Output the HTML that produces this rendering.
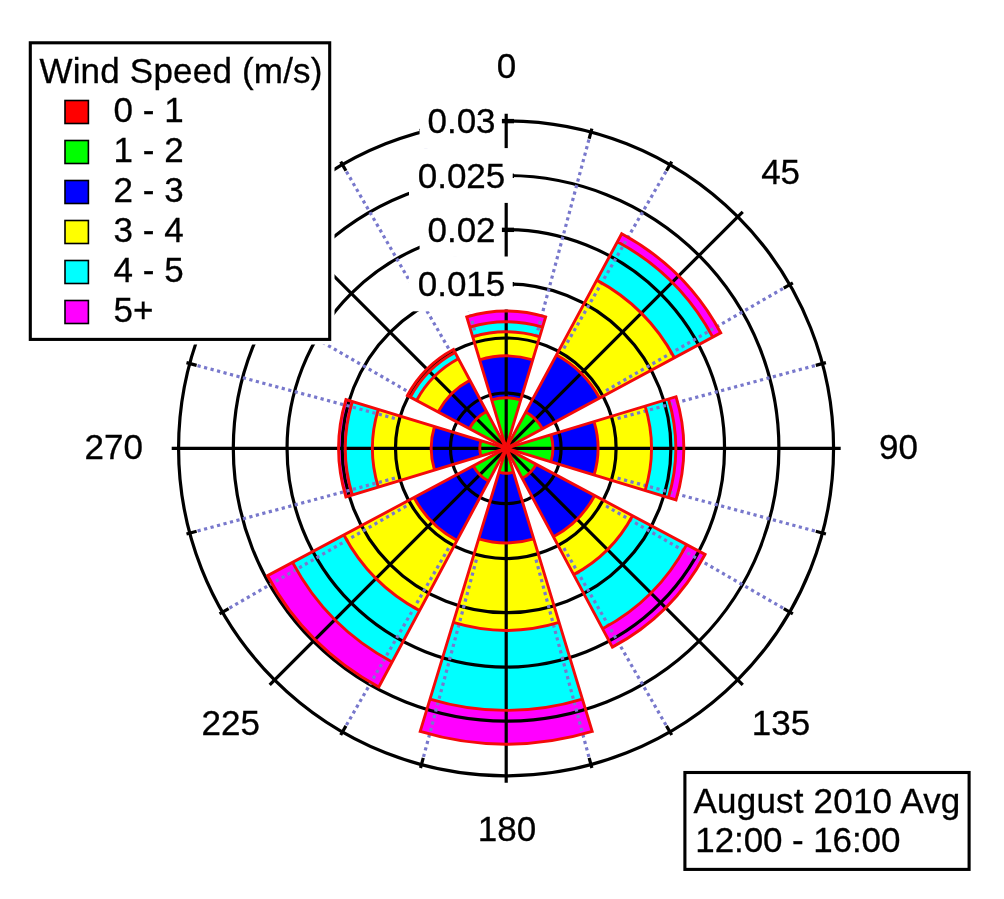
<!DOCTYPE html>
<html><head><meta charset="utf-8"><title>Wind Rose</title>
<style>html,body{margin:0;padding:0;background:#fff}svg{display:block}</style></head>
<body>
<svg width="1004" height="899" viewBox="0 0 1004 899">
<defs><mask id="gm" maskUnits="userSpaceOnUse" x="0" y="0" width="1004" height="899">
<rect width="1004" height="899" fill="#fff"/>
<rect x="419.6" y="93.4" width="82.3" height="54.8" fill="#000"/>
<rect x="409" y="148.1" width="103.7" height="54.8" fill="#000"/>
<rect x="419.6" y="202.15" width="82.3" height="54.8" fill="#000"/>
<rect x="409" y="256.5" width="103.7" height="54.8" fill="#000"/>
<path d="M506.2 448.3L464.26 316.09A138.7 138.7 0 0 1 548.14 316.09Z" fill="#fff"/>
</mask></defs>
<rect width="1004" height="899" fill="#fff"/>
<g stroke="none">
<path d="M506.2 448.3L505.05 444.47A4 4 0 0 1 507.35 444.47Z" fill="#ff0000"/>
<path d="M505.05 444.47L491.69 399.93A50.5 50.5 0 0 1 520.71 399.93L507.35 444.47A4 4 0 0 0 505.05 444.47Z" fill="#00ff00"/>
<path d="M491.69 399.93L479.65 359.8A92.4 92.4 0 0 1 532.75 359.8L520.71 399.93A50.5 50.5 0 0 0 491.69 399.93Z" fill="#0000ff"/>
<path d="M479.65 359.8L472.75 336.81A116.4 116.4 0 0 1 539.65 336.81L532.75 359.8A92.4 92.4 0 0 0 479.65 359.8Z" fill="#ffff00"/>
<path d="M472.75 336.81L469.88 327.23A126.4 126.4 0 0 1 542.52 327.23L539.65 336.81A116.4 116.4 0 0 0 472.75 336.81Z" fill="#00ffff"/>
<path d="M469.88 327.23L466.77 316.89A137.2 137.2 0 0 1 545.63 316.89L542.52 327.23A126.4 126.4 0 0 0 469.88 327.23Z" fill="#ff00ff"/>
<path d="M506.2 448.3L508.1 444.78A4 4 0 0 1 509.72 446.4Z" fill="#ff0000"/>
<path d="M508.1 444.78L525.73 412.02A41.2 41.2 0 0 1 542.48 428.77L509.72 446.4A4 4 0 0 0 508.1 444.78Z" fill="#00ff00"/>
<path d="M525.73 412.02L556.45 354.97A106 106 0 0 1 599.53 398.05L542.48 428.77A41.2 41.2 0 0 0 525.73 412.02Z" fill="#0000ff"/>
<path d="M556.45 354.97L596.75 280.13A191 191 0 0 1 674.37 357.75L599.53 398.05A106 106 0 0 0 556.45 354.97Z" fill="#ffff00"/>
<path d="M596.75 280.13L617.42 241.74A234.6 234.6 0 0 1 712.76 337.08L674.37 357.75A191 191 0 0 0 596.75 280.13Z" fill="#00ffff"/>
<path d="M617.42 241.74L621.69 233.82A243.6 243.6 0 0 1 720.68 332.81L712.76 337.08A234.6 234.6 0 0 0 617.42 241.74Z" fill="#ff00ff"/>
<path d="M506.2 448.3L510.03 447.14A4 4 0 0 1 510.03 449.46Z" fill="#ff0000"/>
<path d="M510.03 447.14L550.88 434.72A46.7 46.7 0 0 1 550.88 461.88L510.03 449.46A4 4 0 0 0 510.03 447.14Z" fill="#00ff00"/>
<path d="M550.88 434.72L594.04 421.61A91.8 91.8 0 0 1 594.04 474.99L550.88 461.88A46.7 46.7 0 0 0 550.88 434.72Z" fill="#0000ff"/>
<path d="M594.04 421.61L645.13 406.09A145.2 145.2 0 0 1 645.13 490.51L594.04 474.99A91.8 91.8 0 0 0 594.04 421.61Z" fill="#ffff00"/>
<path d="M645.13 406.09L668.38 399.03A169.5 169.5 0 0 1 668.38 497.57L645.13 490.51A145.2 145.2 0 0 0 645.13 406.09Z" fill="#00ffff"/>
<path d="M668.38 399.03L676.03 396.7A177.5 177.5 0 0 1 676.03 499.9L668.38 497.57A169.5 169.5 0 0 0 668.38 399.03Z" fill="#ff00ff"/>
<path d="M506.2 448.3L509.73 450.18A4 4 0 0 1 508.08 451.83Z" fill="#ff0000"/>
<path d="M509.73 450.18L536.19 464.31A34 34 0 0 1 522.21 478.29L508.08 451.83A4 4 0 0 0 509.73 450.18Z" fill="#00ff00"/>
<path d="M536.19 464.31L594.68 495.54A100.3 100.3 0 0 1 553.44 536.78L522.21 478.29A34 34 0 0 0 536.19 464.31Z" fill="#0000ff"/>
<path d="M594.68 495.54L632.52 515.75A143.2 143.2 0 0 1 573.65 574.62L553.44 536.78A100.3 100.3 0 0 0 594.68 495.54Z" fill="#ffff00"/>
<path d="M632.52 515.75L686.68 544.67A204.6 204.6 0 0 1 602.57 628.78L573.65 574.62A143.2 143.2 0 0 0 632.52 515.75Z" fill="#00ffff"/>
<path d="M686.68 544.67L705.03 554.47A225.4 225.4 0 0 1 612.37 647.13L602.57 628.78A204.6 204.6 0 0 0 686.68 544.67Z" fill="#ff00ff"/>
<path d="M506.2 448.3L507.36 452.13A4 4 0 0 1 505.04 452.13Z" fill="#ff0000"/>
<path d="M507.36 452.13L513.47 472.22A25 25 0 0 1 498.93 472.22L505.04 452.13A4 4 0 0 0 507.36 452.13Z" fill="#00ff00"/>
<path d="M513.47 472.22L533.7 538.81A94.6 94.6 0 0 1 478.7 538.81L498.93 472.22A25 25 0 0 0 513.47 472.22Z" fill="#0000ff"/>
<path d="M533.7 538.81L559.11 622.44A182 182 0 0 1 453.29 622.44L478.7 538.81A94.6 94.6 0 0 0 533.7 538.81Z" fill="#ffff00"/>
<path d="M559.11 622.44L582.39 699.08A262.1 262.1 0 0 1 430.01 699.08L453.29 622.44A182 182 0 0 0 559.11 622.44Z" fill="#00ffff"/>
<path d="M582.39 699.08L592.22 731.42A295.9 295.9 0 0 1 420.18 731.42L430.01 699.08A262.1 262.1 0 0 0 582.39 699.08Z" fill="#ff00ff"/>
<path d="M506.2 448.3L504.32 451.83A4 4 0 0 1 502.67 450.18Z" fill="#ff0000"/>
<path d="M504.32 451.83L488.63 481.2A37.3 37.3 0 0 1 473.3 465.87L502.67 450.18A4 4 0 0 0 504.32 451.83Z" fill="#00ff00"/>
<path d="M488.63 481.2L456.98 540.48A104.5 104.5 0 0 1 414.02 497.52L473.3 465.87A37.3 37.3 0 0 0 488.63 481.2Z" fill="#0000ff"/>
<path d="M456.98 540.48L419.53 610.61A184 184 0 0 1 343.89 534.97L414.02 497.52A104.5 104.5 0 0 0 456.98 540.48Z" fill="#ffff00"/>
<path d="M419.53 610.61L392.12 661.95A242.2 242.2 0 0 1 292.55 562.38L343.89 534.97A184 184 0 0 0 419.53 610.61Z" fill="#00ffff"/>
<path d="M392.12 661.95L378.79 686.92A270.5 270.5 0 0 1 267.58 575.71L292.55 562.38A242.2 242.2 0 0 0 392.12 661.95Z" fill="#ff00ff"/>
<path d="M506.2 448.3L502.37 449.46A4 4 0 0 1 502.37 447.14Z" fill="#ff0000"/>
<path d="M502.37 449.46L480.94 455.97A26.4 26.4 0 0 1 480.94 440.63L502.37 447.14A4 4 0 0 0 502.37 449.46Z" fill="#00ff00"/>
<path d="M480.94 455.97L434.44 470.1A75 75 0 0 1 434.44 426.5L480.94 440.63A26.4 26.4 0 0 0 480.94 455.97Z" fill="#0000ff"/>
<path d="M434.44 470.1L378.27 487.17A133.7 133.7 0 0 1 378.27 409.43L434.44 426.5A75 75 0 0 0 434.44 470.1Z" fill="#ffff00"/>
<path d="M378.27 487.17L352.34 495.04A160.8 160.8 0 0 1 352.34 401.56L378.27 409.43A133.7 133.7 0 0 0 378.27 487.17Z" fill="#00ffff"/>
<path d="M352.34 495.04L345.93 496.99A167.5 167.5 0 0 1 345.93 399.61L352.34 401.56A160.8 160.8 0 0 0 352.34 495.04Z" fill="#ff00ff"/>
<path d="M506.2 448.3L502.67 446.42A4 4 0 0 1 504.32 444.77Z" fill="#ff0000"/>
<path d="M502.67 446.42L469.33 428.61A41.8 41.8 0 0 1 486.51 411.43L504.32 444.77A4 4 0 0 0 502.67 446.42Z" fill="#00ff00"/>
<path d="M469.33 428.61L438.1 411.94A77.2 77.2 0 0 1 469.84 380.2L486.51 411.43A41.8 41.8 0 0 0 469.33 428.61Z" fill="#0000ff"/>
<path d="M438.1 411.94L416.58 400.45A101.6 101.6 0 0 1 458.35 358.68L469.84 380.2A77.2 77.2 0 0 0 438.1 411.94Z" fill="#ffff00"/>
<path d="M416.58 400.45L410.31 397.1A108.7 108.7 0 0 1 455 352.41L458.35 358.68A101.6 101.6 0 0 0 416.58 400.45Z" fill="#00ffff"/>
<path d="M410.31 397.1L407.4 395.55A112 112 0 0 1 453.45 349.5L455 352.41A108.7 108.7 0 0 0 410.31 397.1Z" fill="#ff00ff"/>
</g>
<g mask="url(#gm)">
<g fill="none" stroke="#000" stroke-width="3.2">
<circle cx="505.8" cy="448.3" r="55.3"/>
<circle cx="505.8" cy="448.3" r="110.3"/>
<circle cx="506.5" cy="448.3" r="164.4"/>
<circle cx="505.8" cy="448.3" r="218.75"/>
<circle cx="506.1" cy="448.3" r="272.8"/>
<circle cx="506.07" cy="448.3" r="327.5"/>
<path d="M506.2 448.3L506.2 113.8"/>
<path d="M506.2 448.3L742.73 211.77"/>
<path d="M506.2 448.3L840.7 448.3"/>
<path d="M506.2 448.3L742.73 684.83"/>
<path d="M506.2 448.3L506.2 782.8"/>
<path d="M506.2 448.3L269.67 684.83"/>
<path d="M506.2 448.3L171.7 448.3"/>
<path d="M506.2 448.3L269.67 211.77"/>
<path d="M589.15 138.72L591.87 128.58"/>
<path d="M666.45 170.74L671.7 161.65"/>
<path d="M783.76 288.05L792.85 282.8"/>
<path d="M815.78 365.35L825.92 362.63"/>
<path d="M815.78 531.25L825.92 533.97"/>
<path d="M783.76 608.55L792.85 613.8"/>
<path d="M666.45 725.86L671.7 734.95"/>
<path d="M589.15 757.88L591.87 768.02"/>
<path d="M423.25 757.88L420.53 768.02"/>
<path d="M345.95 725.86L340.7 734.95"/>
<path d="M228.64 608.55L219.55 613.8"/>
<path d="M196.62 531.25L186.48 533.97"/>
<path d="M196.62 365.35L186.48 362.63"/>
<path d="M228.64 288.05L219.55 282.8"/>
<path d="M345.95 170.74L340.7 161.65"/>
<path d="M423.25 138.72L420.53 128.58"/>
</g>
<g fill="none" stroke="#7878cc" stroke-width="3.2" stroke-dasharray="3.2 3.5">
<path d="M588.89 139.69L535.52 338.86"/>
<path d="M665.95 171.6L562.85 350.18"/>
<path d="M782.9 288.55L604.32 391.65"/>
<path d="M814.81 365.61L615.64 418.98"/>
<path d="M814.81 530.99L615.64 477.62"/>
<path d="M782.9 608.05L604.32 504.95"/>
<path d="M665.95 725L562.85 546.42"/>
<path d="M588.89 756.91L535.52 557.74"/>
<path d="M423.51 756.91L476.88 557.74"/>
<path d="M346.45 725L449.55 546.42"/>
<path d="M229.5 608.05L408.08 504.95"/>
<path d="M197.59 530.99L396.76 477.62"/>
<path d="M197.59 365.61L396.76 418.98"/>
<path d="M229.5 288.55L408.08 391.65"/>
<path d="M346.45 171.6L449.55 350.18"/>
<path d="M423.51 139.69L476.88 338.86"/>
</g>
<g stroke="#000" stroke-width="4.4">
<path d="M498.8 121.1L514 121.1"/>
<path d="M498.8 175.8L514 175.8"/>
<path d="M498.8 229.85L514 229.85"/>
<path d="M498.8 284.2L514 284.2"/>
</g>
</g>
<g fill="none" stroke="#f40a0a" stroke-width="2.9" stroke-linejoin="miter">
<path d="M506.2 448.3L466.77 316.89A137.2 137.2 0 0 1 545.63 316.89ZM505.05 444.47A4 4 0 0 1 507.35 444.47M491.69 399.93A50.5 50.5 0 0 1 520.71 399.93M479.65 359.8A92.4 92.4 0 0 1 532.75 359.8M472.75 336.81A116.4 116.4 0 0 1 539.65 336.81M469.88 327.23A126.4 126.4 0 0 1 542.52 327.23"/>
<path d="M506.2 448.3L621.69 233.82A243.6 243.6 0 0 1 720.68 332.81ZM508.1 444.78A4 4 0 0 1 509.72 446.4M525.73 412.02A41.2 41.2 0 0 1 542.48 428.77M556.45 354.97A106 106 0 0 1 599.53 398.05M596.75 280.13A191 191 0 0 1 674.37 357.75M617.42 241.74A234.6 234.6 0 0 1 712.76 337.08"/>
<path d="M506.2 448.3L676.03 396.7A177.5 177.5 0 0 1 676.03 499.9ZM510.03 447.14A4 4 0 0 1 510.03 449.46M550.88 434.72A46.7 46.7 0 0 1 550.88 461.88M594.04 421.61A91.8 91.8 0 0 1 594.04 474.99M645.13 406.09A145.2 145.2 0 0 1 645.13 490.51M668.38 399.03A169.5 169.5 0 0 1 668.38 497.57"/>
<path d="M506.2 448.3L705.03 554.47A225.4 225.4 0 0 1 612.37 647.13ZM509.73 450.18A4 4 0 0 1 508.08 451.83M536.19 464.31A34 34 0 0 1 522.21 478.29M594.68 495.54A100.3 100.3 0 0 1 553.44 536.78M632.52 515.75A143.2 143.2 0 0 1 573.65 574.62M686.68 544.67A204.6 204.6 0 0 1 602.57 628.78"/>
<path d="M506.2 448.3L592.22 731.42A295.9 295.9 0 0 1 420.18 731.42ZM507.36 452.13A4 4 0 0 1 505.04 452.13M513.47 472.22A25 25 0 0 1 498.93 472.22M533.7 538.81A94.6 94.6 0 0 1 478.7 538.81M559.11 622.44A182 182 0 0 1 453.29 622.44M582.39 699.08A262.1 262.1 0 0 1 430.01 699.08"/>
<path d="M506.2 448.3L378.79 686.92A270.5 270.5 0 0 1 267.58 575.71ZM504.32 451.83A4 4 0 0 1 502.67 450.18M488.63 481.2A37.3 37.3 0 0 1 473.3 465.87M456.98 540.48A104.5 104.5 0 0 1 414.02 497.52M419.53 610.61A184 184 0 0 1 343.89 534.97M392.12 661.95A242.2 242.2 0 0 1 292.55 562.38"/>
<path d="M506.2 448.3L345.93 496.99A167.5 167.5 0 0 1 345.93 399.61ZM502.37 449.46A4 4 0 0 1 502.37 447.14M480.94 455.97A26.4 26.4 0 0 1 480.94 440.63M434.44 470.1A75 75 0 0 1 434.44 426.5M378.27 487.17A133.7 133.7 0 0 1 378.27 409.43M352.34 495.04A160.8 160.8 0 0 1 352.34 401.56"/>
<path d="M506.2 448.3L407.4 395.55A112 112 0 0 1 453.45 349.5ZM502.67 446.42A4 4 0 0 1 504.32 444.77M469.33 428.61A41.8 41.8 0 0 1 486.51 411.43M438.1 411.94A77.2 77.2 0 0 1 469.84 380.2M416.58 400.45A101.6 101.6 0 0 1 458.35 358.68M410.31 397.1A108.7 108.7 0 0 1 455 352.41"/>
</g>
<text x="461.5" y="133.2" text-anchor="middle" font-family="Liberation Sans, Arial, sans-serif" font-size="35" fill="#000" stroke="#000" stroke-width="0.3">0.03</text>
<text x="461.5" y="187.9" text-anchor="middle" font-family="Liberation Sans, Arial, sans-serif" font-size="35" fill="#000" stroke="#000" stroke-width="0.3">0.025</text>
<text x="461.5" y="241.95" text-anchor="middle" font-family="Liberation Sans, Arial, sans-serif" font-size="35" fill="#000" stroke="#000" stroke-width="0.3">0.02</text>
<text x="461.5" y="296.3" text-anchor="middle" font-family="Liberation Sans, Arial, sans-serif" font-size="35" fill="#000" stroke="#000" stroke-width="0.3">0.015</text>
<text x="506.4" y="78" text-anchor="middle" font-family="Liberation Sans, Arial, sans-serif" font-size="35" fill="#000" stroke="#000" stroke-width="0.3">0</text>
<text x="780.6" y="183.6" text-anchor="middle" font-family="Liberation Sans, Arial, sans-serif" font-size="35" fill="#000" stroke="#000" stroke-width="0.3">45</text>
<text x="898.4" y="458.9" text-anchor="middle" font-family="Liberation Sans, Arial, sans-serif" font-size="35" fill="#000" stroke="#000" stroke-width="0.3">90</text>
<text x="781" y="734.7" text-anchor="middle" font-family="Liberation Sans, Arial, sans-serif" font-size="35" fill="#000" stroke="#000" stroke-width="0.3">135</text>
<text x="507.0" y="841.2" text-anchor="middle" font-family="Liberation Sans, Arial, sans-serif" font-size="35" fill="#000" stroke="#000" stroke-width="0.3">180</text>
<text x="230.8" y="734.7" text-anchor="middle" font-family="Liberation Sans, Arial, sans-serif" font-size="35" fill="#000" stroke="#000" stroke-width="0.3">225</text>
<text x="113.7" y="459.0" text-anchor="middle" font-family="Liberation Sans, Arial, sans-serif" font-size="35" fill="#000" stroke="#000" stroke-width="0.3">270</text>
<rect x="26" y="38" width="308.5" height="306.5" fill="#fff"/>
<rect x="30.3" y="42.8" width="299.4" height="296.6" fill="#fff" stroke="#000" stroke-width="3.1"/>
<text x="39.4" y="83" letter-spacing="0.2" font-family="Liberation Sans, Arial, sans-serif" font-size="35" fill="#000" stroke="#000" stroke-width="0.3">Wind Speed (m/s)</text>
<rect x="65" y="100.5" width="23.4" height="23" fill="#ff0000" stroke="#000" stroke-width="1.6"/>
<text x="113.6" y="122.2" font-family="Liberation Sans, Arial, sans-serif" font-size="35" fill="#000" stroke="#000" stroke-width="0.3">0 - 1</text>
<rect x="65" y="140.5" width="23.4" height="23" fill="#00ff00" stroke="#000" stroke-width="1.6"/>
<text x="113.6" y="162.2" font-family="Liberation Sans, Arial, sans-serif" font-size="35" fill="#000" stroke="#000" stroke-width="0.3">1 - 2</text>
<rect x="65" y="180.5" width="23.4" height="23" fill="#0000ff" stroke="#000" stroke-width="1.6"/>
<text x="113.6" y="202.2" font-family="Liberation Sans, Arial, sans-serif" font-size="35" fill="#000" stroke="#000" stroke-width="0.3">2 - 3</text>
<rect x="65" y="220.5" width="23.4" height="23" fill="#ffff00" stroke="#000" stroke-width="1.6"/>
<text x="113.6" y="242.2" font-family="Liberation Sans, Arial, sans-serif" font-size="35" fill="#000" stroke="#000" stroke-width="0.3">3 - 4</text>
<rect x="65" y="260.5" width="23.4" height="23" fill="#00ffff" stroke="#000" stroke-width="1.6"/>
<text x="113.6" y="282.2" font-family="Liberation Sans, Arial, sans-serif" font-size="35" fill="#000" stroke="#000" stroke-width="0.3">4 - 5</text>
<rect x="65" y="300.5" width="23.4" height="23" fill="#ff00ff" stroke="#000" stroke-width="1.6"/>
<text x="113.6" y="322.2" font-family="Liberation Sans, Arial, sans-serif" font-size="35" fill="#000" stroke="#000" stroke-width="0.3">5+</text>
<rect x="684.9" y="772.5" width="284.2" height="96.9" fill="#fff" stroke="#000" stroke-width="3.1"/>
<text x="693.5" y="812.7" letter-spacing="0.2" font-family="Liberation Sans, Arial, sans-serif" font-size="35" fill="#000" stroke="#000" stroke-width="0.3">August 2010 Avg</text>
<text x="695.3" y="852.4" letter-spacing="-0.1" font-family="Liberation Sans, Arial, sans-serif" font-size="35" fill="#000" stroke="#000" stroke-width="0.3">12:00 - 16:00</text>
</svg>
</body></html>
